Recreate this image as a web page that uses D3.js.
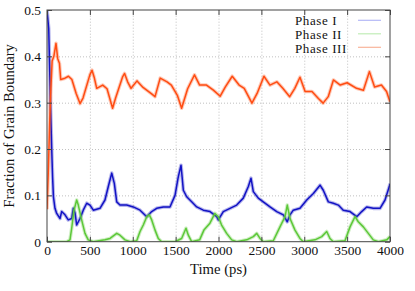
<!DOCTYPE html>
<html>
<head>
<meta charset="utf-8">
<script src="https://cdn.jsdelivr.net/npm/d3@7"></script>
<style>
  body { margin: 0; background: #fff; }
  svg text { font-family: "Liberation Serif", "DejaVu Serif", serif; fill: #111; }
</style>
</head>
<body>
<div id="chart"></div>
<script>
// values, [time (ps), fraction]
const phaseI = [
  [0,0.5],[20,0.46],[40,0.3],[55,0.2],[65,0.14],[75,0.097],[93,0.072],[113,0.061],
  [152,0.05],[171,0.065],[210,0.058],[248,0.047],[288,0.05],[307,0.072],[327,0.062],
  [346,0.036],[385,0.05],[423,0.068],[463,0.083],[501,0.079],[540,0.068],[618,0.072],
  [676,0.09],[715,0.119],[755,0.148],[785,0.126],[813,0.086],[851,0.079],[929,0.079],
  [1006,0.075],[1085,0.068],[1163,0.054],[1221,0.065],[1279,0.072],[1356,0.075],
  [1434,0.075],[1493,0.1],[1531,0.14],[1563,0.165],[1590,0.111],[1629,0.097],
  [1687,0.086],[1746,0.075],[1823,0.068],[1901,0.065],[1979,0.054],[1998,0.047],
  [2056,0.065],[2134,0.072],[2212,0.079],[2289,0.094],[2348,0.119],[2379,0.137],
  [2406,0.108],[2464,0.094],[2522,0.086],[2601,0.075],[2679,0.065],[2756,0.058],
  [2802,0.043],[2834,0.058],[2872,0.068],[2950,0.072],[3029,0.09],[3106,0.104],
  [3184,0.122],[3222,0.111],[3281,0.086],[3339,0.083],[3397,0.079],[3455,0.068],
  [3534,0.065],[3612,0.054],[3670,0.065],[3728,0.075],[3805,0.072],[3884,0.072],
  [3942,0.09],[3992,0.119],[4000,0.125]
]
const phaseII = [
  [0,0],[230,0],[268,0.004],[288,0.029],[315,0.068],[346,0.09],[365,0.079],[404,0.047],
  [443,0.018],[481,0.004],[540,0],[676,0.004],[735,0.007],[813,0.018],[851,0.014],
  [910,0.004],[970,0],[1046,0.002],[1085,0.022],[1123,0.036],[1163,0.054],[1193,0.058],
  [1221,0.047],[1260,0.025],[1298,0.007],[1337,0],[1493,0],[1570,0.007],[1621,0.029],
  [1648,0.014],[1687,0],[1780,0.004],[1830,0.025],[1900,0.04],[1958,0.061],[1998,0.054],
  [2036,0.036],[2095,0.018],[2154,0.004],[2212,0],[2329,0.004],[2406,0.011],[2446,0.018],
  [2484,0.007],[2523,0],[2639,0.002],[2717,0.032],[2776,0.054],[2802,0.079],[2834,0.05],
  [2892,0.025],[2950,0.007],[2989,0],[3125,0.004],[3204,0.011],[3262,0.022],[3300,0.007],
  [3339,0],[3475,0.002],[3534,0.032],[3592,0.054],[3630,0.043],[3689,0.032],[3747,0.018],
  [3805,0.004],[3864,0],[3962,0.004],[4000,0.011]
]
const phaseIII = [
  [0,0.07],[15,0.15],[30,0.25],[45,0.33],[60,0.39],[80,0.4],[105,0.428],[125,0.395],
  [145,0.385],[160,0.35],[200,0.352],[250,0.357],[290,0.35],[340,0.32],[385,0.298],
  [420,0.31],[500,0.36],[525,0.37],[550,0.355],[580,0.331],[650,0.338],[700,0.33],
  [765,0.288],[800,0.31],[880,0.355],[905,0.363],[940,0.345],[980,0.331],[1050,0.347],
  [1120,0.333],[1220,0.319],[1260,0.313],[1320,0.353],[1400,0.345],[1450,0.338],
  [1520,0.316],[1570,0.288],[1640,0.33],[1720,0.36],[1780,0.338],[1860,0.338],
  [1940,0.327],[2020,0.314],[2080,0.334],[2160,0.357],[2240,0.338],[2300,0.331],
  [2390,0.299],[2450,0.32],[2530,0.357],[2600,0.338],[2680,0.345],[2750,0.331],
  [2830,0.313],[2890,0.331],[2950,0.355],[3010,0.324],[3090,0.324],[3165,0.309],
  [3220,0.299],[3280,0.313],[3340,0.349],[3420,0.338],[3500,0.343],[3610,0.331],
  [3690,0.327],[3760,0.367],[3820,0.334],[3900,0.338],[3960,0.324],[4000,0.302]
]
const seriesNames = ["Phase I", "Phase II", "Phase III"]
const seriesColors = ["#1212c4", "#5cc838", "#ff4c12"]
const legendColors = ["#b4b8f6", "#c0ecb6", "#f9b49a"]
const xTicks = [0, 500, 1000, 1500, 2000, 2500, 3000, 3500, 4000]
const yTicks = [0, 0.1, 0.2, 0.3, 0.4, 0.5]

const width = 415, height = 291
const margin = {top: 10, right: 25, bottom: 49.3, left: 47}
const w = width - margin.left - margin.right
const h = height - margin.top - margin.bottom

const svg = d3.select("#chart").append("svg")
    .attr("width", width)
    .attr("height", height)

const g = svg.append("g")
    .attr("transform", `translate(${margin.left},${margin.top})`)

const x = d3.scaleLinear().domain([0, 4000]).range([0, w])
const y = d3.scaleLinear().domain([0, 0.5]).range([h, 0])

// dotted grid
g.append("g")
    .attr("class", "grid")
    .attr("transform", `translate(0,${h})`)
    .call(d3.axisBottom(x).tickValues(xTicks.slice(1, -1)).tickSize(-h).tickFormat(""))
g.append("g")
    .attr("class", "grid")
    .call(d3.axisLeft(y).tickValues(yTicks.slice(1, -1)).tickSize(-w).tickFormat(""))
g.selectAll(".grid .domain").remove()
g.selectAll(".grid line")
    .attr("stroke", "#b0b0b0")
    .attr("stroke-width", 0.8)
    .attr("stroke-dasharray", "1,2")

svg.append("clipPath").attr("id", "plotclip")
  .append("rect").attr("width", w).attr("height", h)

const line = d3.line()
    .x(d => x(d[0]))
    .y(d => y(d[1]))

const plots = g.append("g").attr("clip-path", "url(#plotclip)")
const allSeries = [phaseI, phaseII, phaseIII]
allSeries.forEach((data, i) => {
    plots.append("path")
        .datum(data)
        .attr("d", line)
        .attr("fill", "none")
        .attr("stroke", seriesColors[i])
        .attr("stroke-opacity", 0.3)
        .attr("stroke-width", 3.6)
        .attr("stroke-linejoin", "round")
    plots.append("path")
        .datum(data)
        .attr("d", line)
        .attr("fill", "none")
        .attr("stroke", seriesColors[i])
        .attr("stroke-width", 1.5)
        .attr("stroke-linejoin", "round")
})

// axes with inward ticks on all sides
g.append("g")
    .attr("transform", `translate(0,${h})`)
    .call(d3.axisBottom(x).tickValues(xTicks).tickSize(-5).tickPadding(4).tickFormat(d3.format("d")))
g.append("g")
    .call(d3.axisLeft(y).tickValues(yTicks).tickSize(-5).tickPadding(6).tickFormat(d => d === 0 ? "0" : d3.format(".1f")(d)))
g.append("g")
    .call(d3.axisTop(x).tickValues(xTicks).tickSize(-5).tickFormat(""))
g.append("g")
    .attr("transform", `translate(${w},0)`)
    .call(d3.axisRight(y).tickValues(yTicks).tickSize(-5).tickFormat(""))

g.selectAll(".domain").attr("stroke", "none")
g.selectAll(".tick line").filter(function() { return !this.parentNode.parentNode.classList.contains("grid") })
    .attr("stroke", "#444")
g.selectAll("text").attr("font-size", 13.5).attr("font-family", "Liberation Serif").attr("fill", "#111")

g.append("rect")
    .attr("width", w)
    .attr("height", h)
    .attr("fill", "none")
    .attr("stroke", "#444")
    .attr("stroke-width", 1)

// axis titles
svg.append("text")
    .attr("x", margin.left + w / 2)
    .attr("y", 274)
    .attr("text-anchor", "middle")
    .attr("font-size", 14.7)
    .text("Time (ps)")
svg.append("text")
    .attr("transform", `translate(13.5,${margin.top + h / 2}) rotate(-90)`)
    .attr("text-anchor", "middle")
    .attr("font-size", 14.7)
    .text("Fraction of Grain Boundary")

// legend
const legend = svg.append("g")
seriesNames.forEach((name, i) => {
    legend.append("text")
        .attr("x", 295)
        .attr("y", 25 + i * 14.2)
        .attr("font-size", 13)
        .attr("letter-spacing", 0.6)
        .text(name)
    legend.append("line")
        .attr("x1", 358).attr("x2", 381)
        .attr("y1", 20.3 + i * 13.5).attr("y2", 20.3 + i * 13.5)
        .attr("stroke", legendColors[i])
        .attr("stroke-width", 1.2)
})
</script>
</body>
</html>
